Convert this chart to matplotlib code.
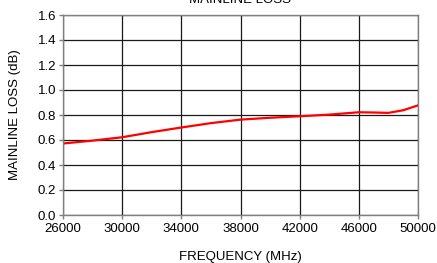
import matplotlib
matplotlib.use("Agg")
import matplotlib.pyplot as plt
import numpy as np

plt.rcParams['font.family'] = ['Liberation Sans', 'DejaVu Sans']

freq = [26000, 28000, 30000, 32000, 34000, 36000, 38000, 40000, 42000, 44000, 46000, 47000, 48000, 49000, 50000]
loss = [0.572, 0.595, 0.622, 0.663, 0.700, 0.735, 0.763, 0.778, 0.790, 0.803, 0.822, 0.820, 0.817, 0.838, 0.877]
xticks = [26000, 30000, 34000, 38000, 42000, 46000, 50000]
yticks = [0.0, 0.2, 0.4, 0.6, 0.8, 1.0, 1.2, 1.4, 1.6]

fig = plt.figure(figsize=(4.37, 2.63), dpi=100)
ax = fig.add_axes([63/437, 1-215/263, 355/437, 200/263])
ax.plot(freq, loss, color='#ff0000', lw=1.6)
ax.set_xlim(26000, 50000)
ax.set_ylim(0, 1.6)
ax.set_xticks(xticks)
ax.set_xticklabels([str(v) for v in xticks])
ax.set_yticks(yticks)
ax.set_yticklabels([f"{v:.1f}" for v in yticks])
ax.grid(True, color='#1a1a1a', lw=0.9)
ax.set_axisbelow(True)
for s in ax.spines.values():
    s.set_color('#808080')
    s.set_linewidth(1.0)
ax.tick_params(axis='both', labelsize=9.5, color='#808080', length=3, width=1.0, pad=2)
ax.tick_params(axis='x', pad=3)
ax.set_xlabel('FREQUENCY (MHz)', fontsize=9.5, labelpad=11.5)
ax.set_ylabel('MAINLINE LOSS (dB)', fontsize=9.5, labelpad=12)
fig.text(0.55, 1-3/263, 'MAINLINE LOSS', ha='center', va='baseline', fontsize=9.5)
fig.savefig('out.png', dpi=100)
